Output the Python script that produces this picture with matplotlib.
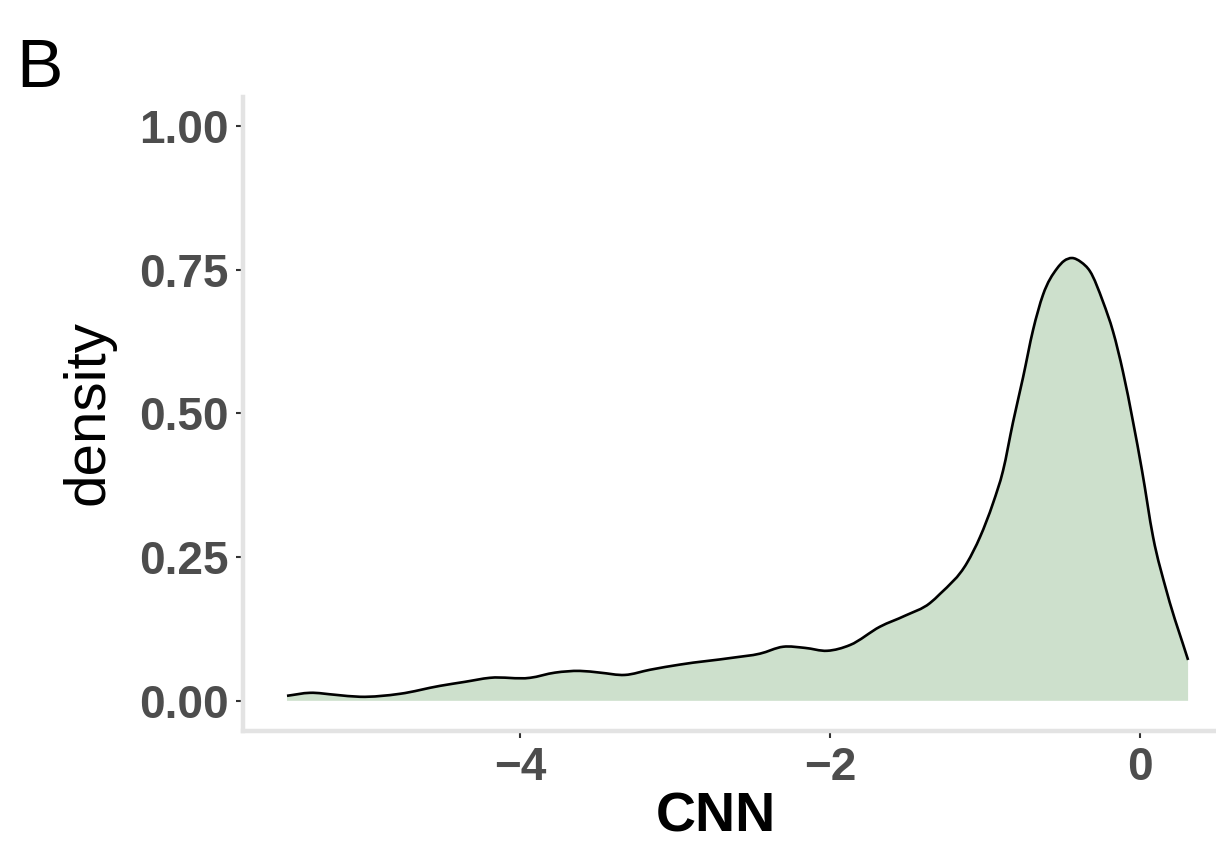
import numpy as np
import matplotlib.pyplot as plt
from matplotlib.path import Path
from matplotlib.patches import PathPatch

# density estimate of CNN scores
cnn = np.array([-5.503, -5.355, -5.19, -5.032, -4.774, -4.516, -4.355, -4.194,
                -3.935, -3.774, -3.613, -3.484, -3.323, -3.161, -2.968, -2.626,
                -2.452, -2.303, -2.161, -2.019, -1.871, -1.677, -1.516, -1.355,
                -1.290, -1.116, -1.032, -0.948, -0.884, -0.819, -0.755, -0.690,
                -0.626, -0.535, -0.490, -0.439, -0.381, -0.323, -0.239, -0.174,
                -0.110, -0.045, 0.013, 0.084, 0.174, 0.310])
density = np.array([0.0087, 0.0139, 0.0104, 0.0070, 0.0122, 0.026, 0.033, 0.040,
                    0.040, 0.049, 0.052, 0.049, 0.045, 0.054, 0.063, 0.075,
                    0.082, 0.094, 0.092, 0.087, 0.097, 0.129, 0.148, 0.170,
                    0.186, 0.240, 0.285, 0.344, 0.400, 0.485, 0.562, 0.645,
                    0.706, 0.752, 0.765, 0.770, 0.763, 0.747, 0.694, 0.642,
                    0.572, 0.485, 0.400, 0.285, 0.188, 0.071])

x_ticks = [-4, -2, 0]
x_labels = ["\u22124", "\u22122", "0"]
y_ticks = [0, 0.25, 0.5, 0.75, 1.0]
y_labels = ["0.00", "0.25", "0.50", "0.75", "1.00"]


def smooth_path(xs, ys):
    # cubic Hermite segments through the points, slopes from neighbouring secants
    h = np.diff(xs)
    d = np.diff(ys) / h
    m = np.empty_like(ys)
    m[0], m[-1] = d[0], d[-1]
    m[1:-1] = (h[:-1] * d[1:] + h[1:] * d[:-1]) / (h[:-1] + h[1:])
    verts = [(xs[0], ys[0])]
    codes = [Path.MOVETO]
    for i in range(len(xs) - 1):
        t = h[i] / 3
        verts += [(xs[i] + t, ys[i] + m[i] * t),
                  (xs[i + 1] - t, ys[i + 1] - m[i + 1] * t),
                  (xs[i + 1], ys[i + 1])]
        codes += [Path.CURVE4] * 3
    return verts, codes


plt.rcParams['font.family'] = ['Liberation Sans', 'DejaVu Sans']

W, H = 1216, 856
fig = plt.figure(figsize=(W / 100, H / 100), dpi=100)
xlim = (-5.79, 0.59)
ylim = (-0.0525, 1.05)
left_px, right_px = 242.5, 1231.5
top_px, bottom_px = 97, 731
ax = fig.add_axes([left_px / W, 1 - bottom_px / H,
                   (right_px - left_px) / W, (bottom_px - top_px) / H])

verts, codes = smooth_path(cnn, density)
area_verts = verts + [(cnn[-1], 0), (cnn[0], 0), verts[0]]
area_codes = codes + [Path.LINETO, Path.LINETO, Path.CLOSEPOLY]
ax.add_patch(PathPatch(Path(area_verts, area_codes), facecolor="#CDE0CC",
                       edgecolor="none"))
ax.add_patch(PathPatch(Path(verts, codes), facecolor="none", edgecolor="black",
                       linewidth=1.9, capstyle="butt"))

ax.set_xlim(*xlim)
ax.set_ylim(*ylim)
ax.set_xticks(x_ticks)
ax.set_xticklabels(x_labels)
ax.set_yticks(y_ticks)
ax.set_yticklabels(y_labels)

for side in ["top", "right"]:
    ax.spines[side].set_visible(False)
for side in ["left", "bottom"]:
    ax.spines[side].set_color("#E3E3E3")
    ax.spines[side].set_linewidth(3.2)

ax.tick_params(axis="both", colors="#333333", length=5, width=1.5,
               labelcolor="#4D4D4D", labelsize=33)
ax.tick_params(axis="y", pad=5)
ax.tick_params(axis="x", pad=6)
for lab in ax.get_xticklabels() + ax.get_yticklabels():
    lab.set_fontweight("bold")

fig.text(716 / W, 1 - 818 / H, "CNN", fontsize=40, fontweight="bold",
         ha="center", va="center", color="black")
fig.text(88 / W, 1 - 413 / H, "density", fontsize=42, rotation=90,
         ha="center", va="center", color="black")
fig.text(16 / W, 1 - 87 / H, "B", fontsize=50, ha="left", va="baseline",
         color="black")

fig.savefig("out.png", dpi=100)
